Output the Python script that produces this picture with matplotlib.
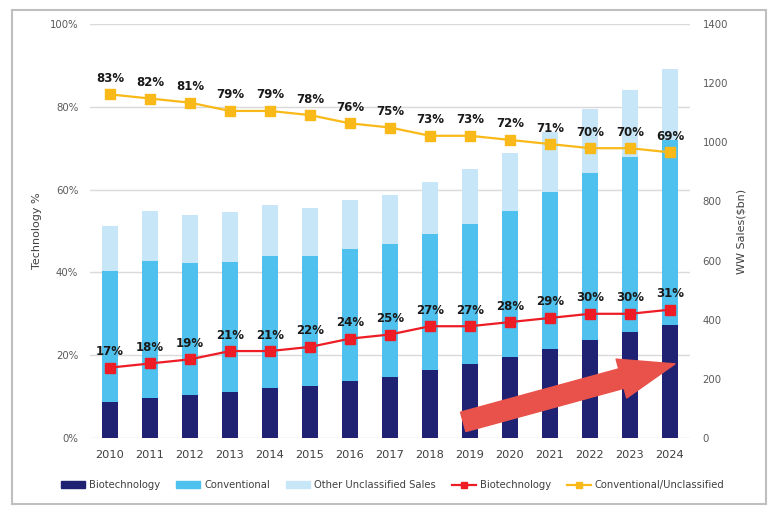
import matplotlib
matplotlib.use("Agg")
import matplotlib.pyplot as plt
from matplotlib.lines import Line2D
from matplotlib.patches import Patch, Rectangle
import numpy as np

# data
years = ['2010', '2011', '2012', '2013', '2014', '2015', '2016', '2017',
         '2018', '2019', '2020', '2021', '2022', '2023', '2024']
biotech_sales = [123, 134, 144, 157, 170, 175, 193, 207, 230, 249, 273, 302, 331, 357, 382]
conventional_sales = [443, 466, 447, 437, 447, 441, 446, 448, 459, 475, 496, 531, 565, 592, 626]
other_sales = [152, 168, 163, 169, 171, 161, 165, 167, 178, 186, 196, 203, 216, 228, 240]
biotech_pct = [17, 18, 19, 21, 21, 22, 24, 25, 27, 27, 28, 29, 30, 30, 31]
conv_pct = [83, 82, 81, 79, 79, 78, 76, 75, 73, 73, 72, 71, 70, 70, 69]

c_dark = '#1F2273'
c_mid = '#4FC1EE'
c_light = '#C7E7F8'
c_red = '#EE1C25'
c_yellow = '#F9B918'
c_tick = '#595959'

fig = plt.figure(figsize=(7.78, 5.14), dpi=100)
ax = fig.add_axes([90 / 778, 1 - 438 / 514, 600 / 778, 414 / 514])

# left axis: technology %, carries the grid
ax.set_xlim(-0.5, len(years) - 0.5)
ax.set_ylim(0, 100)
ax.set_yticks(np.arange(0, 101, 20))
ax.set_yticklabels([f'{v}%' for v in range(0, 101, 20)])
ax.grid(axis='y', color='#D9D9D9', linewidth=1)
ax.set_axisbelow(True)
ax.tick_params(axis='y', length=0, pad=8.5, labelsize=7.3, labelcolor=c_tick)
ax.tick_params(axis='x', length=0, pad=9, labelsize=8.2, labelcolor='#404040')
ax.set_ylabel('Technology %', fontsize=8, color='#404040')
ax.yaxis.set_label_coords(-0.08, 0.5)
for s in ax.spines.values():
    s.set_visible(False)

# right axis: sales bars
ax2 = ax.twinx()
x = np.arange(len(years))
w = 0.4
bottom2 = np.array(biotech_sales) + np.array(conventional_sales)
ax2.bar(x, biotech_sales, w, color=c_dark)
ax2.bar(x, conventional_sales, w, bottom=biotech_sales, color=c_mid)
ax2.bar(x, other_sales, w, bottom=bottom2, color=c_light)
ax2.set_ylim(0, 1400)
ax2.set_yticks(np.arange(0, 1401, 200))
ax2.tick_params(axis='y', length=0, pad=9, labelsize=7.3, labelcolor=c_tick)
ax2.set_ylabel('WW Sales($bn)', fontsize=8, color='#404040')
ax2.yaxis.set_label_coords(1.078, 0.5)
for s in ax2.spines.values():
    s.set_visible(False)

# third axes on top for the share lines
ax3 = ax.twinx()
ax3.set_ylim(0, 100)
ax3.set_yticks([])
for s in ax3.spines.values():
    s.set_visible(False)
ax3.plot(x, biotech_pct, color=c_red, lw=1.6, marker='s', ms=7.5)
ax3.plot(x, conv_pct, color=c_yellow, lw=1.6, marker='s', ms=7.5)
for xi, v in zip(x, biotech_pct):
    ax3.annotate(f'{v}%', (xi, v), xytext=(0, 11.5), textcoords='offset points',
                 ha='center', va='center', fontsize=8.5, fontweight='bold', color='#1A1A1A')
for xi, v in zip(x, conv_pct):
    ax3.annotate(f'{v}%', (xi, v), xytext=(0, 11.5), textcoords='offset points',
                 ha='center', va='center', fontsize=8.5, fontweight='bold', color='#1A1A1A')

# big trend arrow
ax3.annotate('', xy=(0.975, 0.179), xytext=(0.622, 0.039),
             xycoords='axes fraction', textcoords='axes fraction',
             arrowprops=dict(arrowstyle='simple,head_width=2.9,head_length=4.0,tail_width=1.45',
                             mutation_scale=10, color='#E8524A', shrinkA=0, shrinkB=0))

ax.set_xticks(x)
ax.set_xticklabels(years)

handles = [Patch(color=c_dark), Patch(color=c_mid), Patch(color=c_light),
           Line2D([], [], color=c_red, lw=1.6, marker='s', ms=5),
           Line2D([], [], color=c_yellow, lw=1.6, marker='s', ms=5)]
labels = ['Biotechnology', 'Conventional', 'Other Unclassified Sales',
          'Biotechnology', 'Conventional/Unclassified']
fig.legend(handles, labels, loc='center', bbox_to_anchor=(0.505, 0.056), ncol=5,
           frameon=False, fontsize=7.2, handlelength=2.4, handletextpad=0.4,
           columnspacing=1.6, labelcolor='#404040')

fig.add_artist(Rectangle((12 / 778, 1 - 504 / 514), 754 / 778, 494 / 514,
                         transform=fig.transFigure, fill=False, edgecolor='#BFBFBF', lw=1.5))

fig.savefig('out.png', dpi=100)
